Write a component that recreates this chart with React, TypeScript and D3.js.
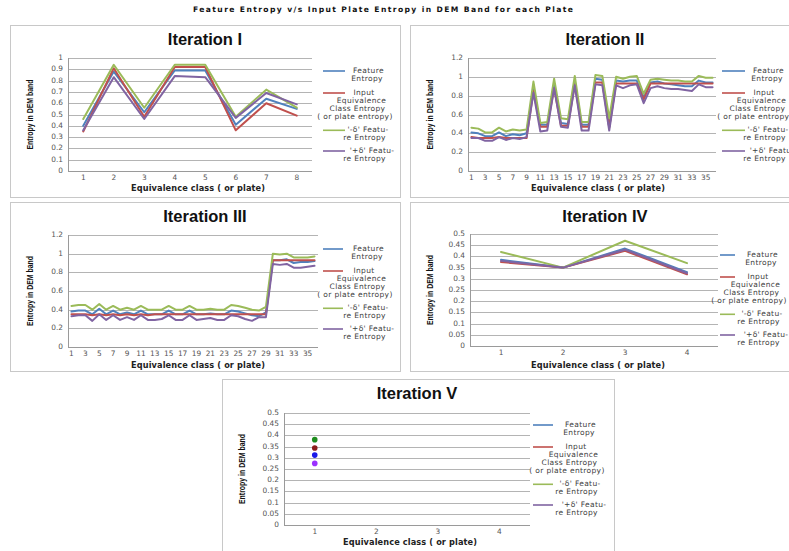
import React from "react";
import * as d3 from "d3";

// series colours (Excel 2007 defaults) and the off-palette markers of iteration V
const lineColors = ["#4F81BD", "#C0504D", "#9BBB59", "#8064A2"];
const markerColors = ["#1a1ae8", "#8b1c1c", "#1e8c1e", "#9b30ff"];

const legendLines = [
  "Feature", "Entropy",
  "Input", "Equivalence", "Class Entropy", "( or plate entropy)",
  "'-δ' Featu-", "re Entropy",
  "'+δ' Featu-", "re Entropy",
];
const legendRowY = [0, 8.3, 22, 30, 38.3, 46.3, 59.3, 67.3, 80, 88.3];
const legendRowDx = [10.5, 9, 6, 3.5, -0.5, -3, 10, 6.5, 14, 6.5];
const legendEntryRow = [0, 2, 6, 8];

const cats8 = ["1", "2", "3", "4", "5", "6", "7", "8"];
const cats36 = ["1", "2", "3", "4", "5", "6", "7", "8", "9", "10", "11", "12", "13", "14", "15", "16", "17", "18",
  "19", "20", "21", "22", "23", "24", "25", "26", "27", "28", "29", "30", "31", "32", "33", "34", "35", "36"];
const cats4 = ["1", "2", "3", "4"];

// Iteration I
const feature1 = [0.40, 0.88, 0.52, 0.89, 0.89, 0.41, 0.64, 0.55];
const input1 = [0.35, 0.91, 0.48, 0.92, 0.92, 0.36, 0.60, 0.49];
const minus1 = [0.46, 0.94, 0.56, 0.94, 0.94, 0.48, 0.72, 0.56];
const plus1 = [0.36, 0.83, 0.46, 0.84, 0.83, 0.47, 0.69, 0.59];

// Iteration II
const feature2 = [0.41, 0.40, 0.37, 0.37, 0.41, 0.37, 0.39, 0.38, 0.40, 0.88, 0.49, 0.49, 0.92, 0.51, 0.50, 0.95, 0.49, 0.49,
  0.98, 0.97, 0.47, 0.96, 0.95, 0.96, 0.96, 0.78, 0.94, 0.95, 0.93, 0.92, 0.91, 0.90, 0.90, 0.96, 0.94, 0.94];
const input2 = [0.36, 0.35, 0.35, 0.35, 0.36, 0.35, 0.35, 0.35, 0.35, 0.85, 0.47, 0.47, 0.88, 0.48, 0.48, 0.92, 0.47, 0.47,
  0.94, 0.94, 0.46, 0.93, 0.93, 0.93, 0.93, 0.76, 0.93, 0.93, 0.93, 0.93, 0.93, 0.93, 0.93, 0.93, 0.93, 0.93];
const minus2 = [0.46, 0.45, 0.41, 0.41, 0.46, 0.42, 0.44, 0.43, 0.44, 0.95, 0.51, 0.52, 0.98, 0.56, 0.55, 1.01, 0.52, 0.52,
  1.02, 1.01, 0.56, 1.00, 0.98, 1.00, 1.01, 0.82, 0.97, 0.98, 0.97, 0.96, 0.96, 0.95, 0.95, 1.01, 0.99, 0.99];
const plus2 = [0.35, 0.35, 0.32, 0.32, 0.36, 0.33, 0.35, 0.34, 0.36, 0.83, 0.42, 0.43, 0.88, 0.47, 0.46, 0.91, 0.43, 0.43,
  0.92, 0.91, 0.43, 0.91, 0.88, 0.91, 0.92, 0.72, 0.88, 0.90, 0.88, 0.87, 0.87, 0.86, 0.85, 0.92, 0.89, 0.89];

// Iteration III
const feature3 = [0.38, 0.39, 0.39, 0.35, 0.41, 0.35, 0.39, 0.35, 0.37, 0.35, 0.39, 0.35, 0.35, 0.35, 0.39, 0.35, 0.35, 0.39,
  0.35, 0.35, 0.36, 0.35, 0.35, 0.39, 0.38, 0.36, 0.34, 0.33, 0.37, 0.93, 0.93, 0.94, 0.90, 0.91, 0.91, 0.92];
const input3 = [0.35, 0.35, 0.35, 0.34, 0.35, 0.34, 0.35, 0.34, 0.35, 0.34, 0.35, 0.34, 0.35, 0.35, 0.35, 0.35, 0.35, 0.35,
  0.35, 0.35, 0.35, 0.35, 0.35, 0.35, 0.35, 0.35, 0.35, 0.35, 0.35, 0.93, 0.93, 0.93, 0.93, 0.93, 0.93, 0.93];
const minus3 = [0.44, 0.45, 0.45, 0.40, 0.46, 0.40, 0.44, 0.40, 0.42, 0.40, 0.44, 0.40, 0.40, 0.40, 0.44, 0.40, 0.40, 0.44,
  0.40, 0.40, 0.41, 0.40, 0.40, 0.45, 0.44, 0.42, 0.40, 0.39, 0.43, 1.00, 0.99, 1.00, 0.96, 0.96, 0.96, 0.97];
const plus3 = [0.33, 0.34, 0.34, 0.28, 0.35, 0.29, 0.34, 0.29, 0.32, 0.29, 0.34, 0.29, 0.29, 0.30, 0.34, 0.29, 0.29, 0.34,
  0.29, 0.30, 0.31, 0.29, 0.29, 0.34, 0.33, 0.30, 0.28, 0.32, 0.32, 0.89, 0.88, 0.89, 0.85, 0.85, 0.86, 0.87];

// Iteration IV
const feature4 = [0.385, 0.35, 0.435, 0.33];
const input4 = [0.375, 0.35, 0.425, 0.32];
const minus4 = [0.42, 0.35, 0.47, 0.37];
const plus4 = [0.38, 0.35, 0.43, 0.325];

// Iteration V (only plate 1)
const feature5 = [0.312];
const input5 = [0.344];
const minus5 = [0.381];
const plus5 = [0.275];

type Box = { l: number; t: number; r: number; b: number };
type Leg = { x1: number; x2: number; tx: number; top: number };

type PanelProps = {
  x: number; y: number; w: number; h: number;
  title: string;
  cats: string[];
  everyOther?: boolean;
  yMax: number;
  tickCount: number;
  series: number[][];
  plot: Box;
  legend: Leg;
  markersOnly?: boolean;
};

const tickFont = "DejaVu Sans, Verdana, sans-serif";
const fmt = d3.format("~g");

const Panel = ({ x, y, w, h, title, cats, everyOther, yMax, tickCount, series, plot, legend, markersOnly }: PanelProps) => {
  const xs = d3.scalePoint<string>().domain(cats).range([plot.l, plot.r]).padding(0.5);
  const ys = d3.scaleLinear().domain([0, yMax]).range([plot.b, plot.t]);
  const line = d3.line<number>()
    .x((_, i) => xs(cats[i]) as number)
    .y((d) => ys(d));
  const ticks = ys.ticks(tickCount);
  return (
    <g transform={`translate(${x},${y})`}>
      <rect x={0.5} y={0.5} width={w} height={h} fill="#fff" stroke="#c8c8c8" />
      <text x={195} y={16} textAnchor="middle" dominantBaseline="middle"
        fontFamily="Liberation Sans, Arial, sans-serif" fontWeight="bold" fontSize={16.5} fill="#111">
        {title}
      </text>
      {/* gridlines + y ticks */}
      {ticks.map((t) => (
        <g key={t}>
          <line x1={plot.l} x2={plot.r} y1={Math.round(ys(t)) + 0.5} y2={Math.round(ys(t)) + 0.5}
            stroke={t === 0 ? "#9a9a9a" : "#b4b4b4"} strokeWidth={1} />
          <text x={plot.l - 5} y={ys(t)} textAnchor="end" dominantBaseline="middle"
            fontFamily={tickFont} fontSize={7.4} fill="#555">{fmt(t)}</text>
        </g>
      ))}
      <line x1={plot.l + 0.5} x2={plot.l + 0.5} y1={plot.t} y2={plot.b} stroke="#9a9a9a" />
      {cats.map((c, i) => (everyOther && i % 2 === 1 ? null : (
        <text key={c} x={xs(c)} y={plot.b + 7} textAnchor="middle" dominantBaseline="middle"
          fontFamily={tickFont} fontSize={7.4} fill="#555">{c}</text>
      )))}
      <text x={188} y={163} textAnchor="middle" dominantBaseline="middle" textLength={134} lengthAdjust="spacing"
        fontFamily={tickFont} fontWeight="bold" fontSize={8.2} fill="#222">
        Equivalence class  ( or plate)
      </text>
      <text transform={`translate(21,${(plot.t + plot.b) / 2}) rotate(-90)`} textAnchor="middle" dominantBaseline="middle"
        textLength={70} lengthAdjust="spacingAndGlyphs"
        fontFamily="Liberation Sans Narrow, Liberation Sans, Arial, sans-serif" fontWeight="bold" fontSize={8.6} fill="#111">
        Entropy in DEM band
      </text>
      {/* series */}
      {series.map((s, k) => markersOnly
        ? s.map((v, i) => (
          <circle key={`${k}-${i}`} cx={xs(cats[i])} cy={ys(v)} r={2.8} fill={markerColors[k]} />
        ))
        : (
          <path key={k} d={line(s) ?? ""} fill="none" stroke={lineColors[k]} strokeWidth={2}
            strokeLinejoin="round" strokeLinecap="round" />
        ))}
      {/* legend */}
      {legendEntryRow.map((row, k) => (
        <line key={k} x1={legend.x1} x2={legend.x2} y1={legend.top + legendRowY[row]} y2={legend.top + legendRowY[row]}
          stroke={lineColors[k]} strokeWidth={1.6} />
      ))}
      {legendLines.map((t, i) => (
        <text key={i} x={legend.tx + legendRowDx[i]} y={legend.top + legendRowY[i]} textAnchor="middle"
          dominantBaseline="middle" fontFamily={tickFont} fontSize={7.5} letterSpacing={0.35} fill="#404040">{t}</text>
      ))}
    </g>
  );
};

const App = () => {
  return (
    <svg width={789} height={551} style={{ position: "absolute", left: 0, top: 0, background: "#fff" }}>
      <text x={383} y={10} textAnchor="middle" dominantBaseline="middle" textLength={380} lengthAdjust="spacing"
        fontFamily={tickFont} fontWeight="bold" fontSize={7.6} fill="#111">
        Feature Entropy v/s Input  Plate  Entropy in DEM Band for each Plate
      </text>
      <Panel x={10} y={25} w={390} h={172} title="Iteration I" cats={cats8} yMax={1} tickCount={10}
        series={[feature1, input1, minus1, plus1]}
        plot={{ l: 58, t: 33, r: 302, b: 146 }} legend={{ x1: 313, x2: 335, tx: 348, top: 46 }} />
      <Panel x={410} y={25} w={390} h={172} title="Iteration II" cats={cats36} everyOther yMax={1.2} tickCount={6}
        series={[feature2, input2, minus2, plus2]}
        plot={{ l: 58, t: 33, r: 306, b: 146 }} legend={{ x1: 312, x2: 335, tx: 348, top: 46 }} />
      <Panel x={10} y={202} w={390} h={169} title="Iteration III" cats={cats36} everyOther yMax={1.2} tickCount={6}
        series={[feature3, input3, minus3, plus3]}
        plot={{ l: 58, t: 33, r: 308, b: 145 }} legend={{ x1: 313, x2: 333, tx: 348, top: 47 }} />
      <Panel x={410} y={202} w={390} h={169} title="Iteration IV" cats={cats4} yMax={0.5} tickCount={10}
        series={[feature4, input4, minus4, plus4]}
        plot={{ l: 60, t: 32, r: 308, b: 144 }} legend={{ x1: 310, x2: 325, tx: 342, top: 53 }} />
      <Panel x={222} y={379} w={392} h={180} title="Iteration  V" cats={cats4} yMax={0.5} tickCount={10}
        series={[feature5, input5, minus5, plus5]} markersOnly
        plot={{ l: 62, t: 34, r: 308, b: 146 }} legend={{ x1: 311, x2: 331, tx: 348, top: 46 }} />
    </svg>
  );
};

export default App;
